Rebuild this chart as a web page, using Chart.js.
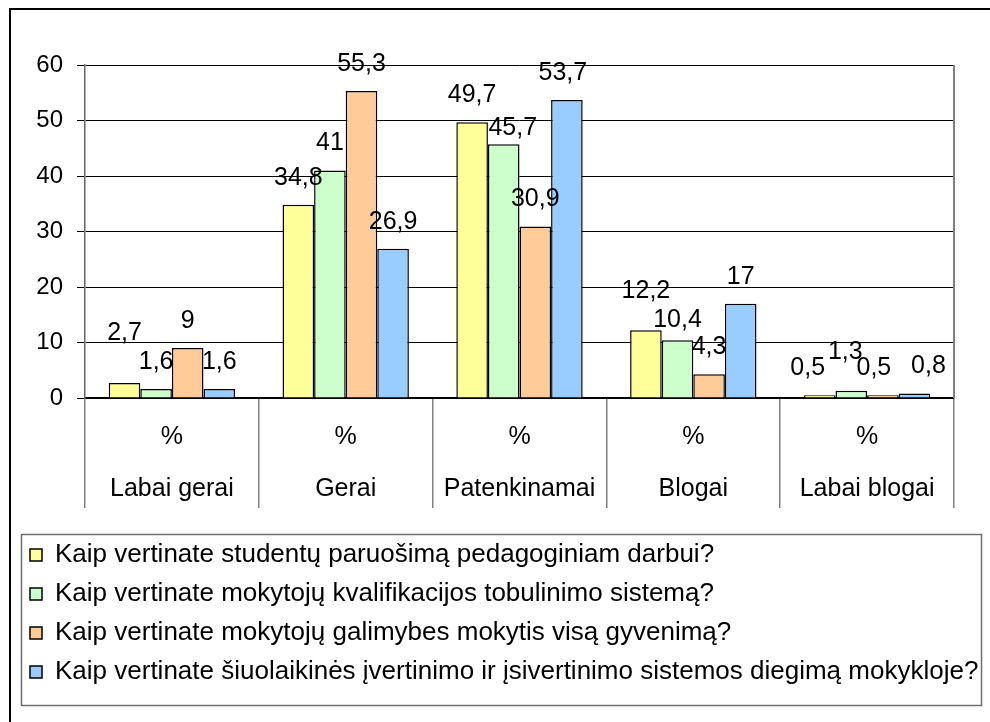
<!DOCTYPE html>
<html>
<head>
<meta charset="utf-8">
<title>Vertinimai</title>
<script src="https://cdn.jsdelivr.net/npm/chart.js@4.4.1/dist/chart.umd.min.js"></script>
<style>
  html, body { margin: 0; padding: 0; background: #fff; }
  #wrap { width: 990px; height: 722px; position: relative; }
</style>
</head>
<body>
<div id="wrap"><canvas id="surveyChart"></canvas></div>
<script>
// Categories (answer options) and the unit row shown above them
const categories = ['Labai gerai', 'Gerai', 'Patenkinamai', 'Blogai', 'Labai blogai'];
const unitLabel = '%';

// Survey questions (legend)
const seriesNames = [
  'Kaip vertinate studentų paruošimą pedagoginiam darbui?',
  'Kaip vertinate mokytojų kvalifikacijos tobulinimo sistemą?',
  'Kaip vertinate mokytojų galimybes mokytis visą gyvenimą?',
  'Kaip vertinate šiuolaikinės įvertinimo ir įsivertinimo sistemos diegimą mokykloje?'
];

// Percentages per category
const studentPrep = [2.7, 34.8, 49.7, 12.2, 0.5];
const qualification = [1.6, 41, 45.7, 10.4, 1.3];
const lifelong = [9, 55.3, 30.9, 4.3, 0.5];
const assessment = [1.6, 26.9, 53.7, 17, 0.8];

// Value axis
const yMin = 0;
const yMax = 60;
const yStep = 10;

const FONT = '"Liberation Sans", Arial, sans-serif';
Chart.defaults.font.family = FONT;

// Hand-moved value labels, as in the original: [series, category, dx, dy]
const labelNudges = [
  [0, 0, 0, -23],
  [1, 2, 9, 11],
  [3, 2, -4, 0],
  [0, 3, 0, -12],
  [1, 3, 0, 7],
  [0, 4, -12, 0],
  [1, 4, -6, -12],
  [2, 4, -9, 0],
  [3, 4, 14, 0]
];

// Draws the value above every bar (comma as decimal separator)
const barValuesPlugin = {
  id: 'barValues',
  afterDatasetsDraw(chart) {
    const ctx = chart.ctx;
    ctx.save();
    ctx.font = '25px ' + FONT;
    ctx.fillStyle = '#000';
    ctx.textAlign = 'center';
    ctx.textBaseline = 'middle';
    chart.data.datasets.forEach((ds, i) => {
      chart.getDatasetMeta(i).data.forEach((bar, j) => {
        const n = labelNudges.find(item => item[0] === i && item[1] === j) || [i, j, 0, 0];
        const text = String(ds.data[j]).replace('.', ',');
        ctx.fillText(text, bar.x + n[2], bar.y - 27 + n[3]);
      });
    });
    ctx.restore();
  }
};

// Outer frame, plot area right edge and the box around the legend
const framePlugin = {
  id: 'frame',
  afterLayout(chart) {
    // let the long last legend line run past the plot's right edge (no clipping)
    const lg = chart.legend;
    lg.right = chart.width - 2;
    lg.width = lg.right - lg.left;
  },
  afterDraw(chart) {
    const { ctx, chartArea, legend } = chart;
    ctx.save();
    ctx.fillStyle = '#000';
    ctx.fillRect(9, 8, chart.width - 9, 2);
    ctx.fillRect(9, 8, 2, chart.height - 8);

    ctx.strokeStyle = '#808080';
    ctx.lineWidth = 2;
    ctx.beginPath();
    ctx.moveTo(chartArea.right, chartArea.top);
    ctx.lineTo(chartArea.right, chartArea.bottom);
    ctx.stroke();

    ctx.strokeStyle = '#6e6e6e';
    ctx.lineWidth = 1.5;
    ctx.strokeRect(legend.left + 4.5, legend.top + 5.5, 960, legend.height + 5);
    ctx.restore();
  }
};

const colors = ['#FFFF99', '#CCFFCC', '#FFCC99', '#99CCFF'];
const seriesData = [studentPrep, qualification, lifelong, assessment];

new Chart(document.getElementById('surveyChart'), {
  type: 'bar',
  data: {
    labels: categories.map(c => [unitLabel, c]),
    datasets: seriesData.map((values, i) => ({
      label: seriesNames[i],
      data: values,
      backgroundColor: colors[i],
      borderColor: '#000',
      borderWidth: 1.5,
      categoryPercentage: 0.727,
      barPercentage: 1
    }))
  },
  options: {
    responsive: true,
    maintainAspectRatio: false,
    animation: false,
    layout: {
      padding: { top: 65, left: 17, right: 36, bottom: 27 }
    },
    scales: {
      x: {
        offset: true,
        grid: {
          offset: true,
          drawOnChartArea: false,
          color: '#808080',
          lineWidth: 1.5,
          tickLength: 110
        },
        border: { color: '#000', width: 1.5 },
        ticks: {
          color: '#000',
          font: { size: 25, lineHeight: 2.08 },
          padding: -97,
          maxRotation: 0,
          autoSkip: false
        },
        afterFit: scale => { scale.height = 131; }
      },
      y: {
        min: yMin,
        max: yMax,
        ticks: {
          stepSize: yStep,
          color: '#000',
          font: { size: 24 },
          padding: 14
        },
        grid: { color: '#000', lineWidth: 1, tickLength: 8 },
        border: { color: '#666', width: 1.5 },
        afterFit: scale => { scale.width = 68; }
      }
    },
    plugins: {
      legend: {
        position: 'bottom',
        align: 'start',
        labels: {
          boxWidth: 12,
          boxHeight: 12,
          padding: 13,
          color: '#000',
          font: { size: 26 }
        }
      },
      tooltip: { enabled: false }
    }
  },
  plugins: [barValuesPlugin, framePlugin]
});
</script>
</body>
</html>
